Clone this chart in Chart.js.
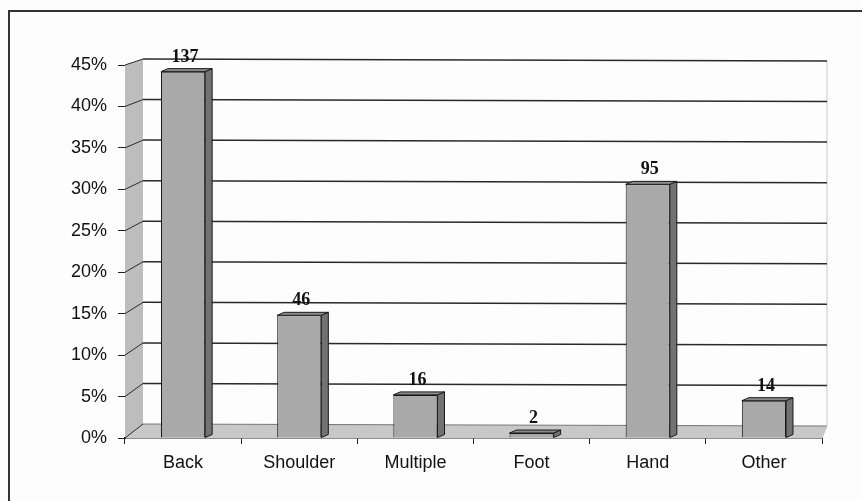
<!DOCTYPE html>
<html>
<head>
<meta charset="utf-8">
<script src="https://cdn.jsdelivr.net/npm/chart.js@4"></script>
<style>
html,body{margin:0;padding:0;background:#fff;}
#wrap{width:862px;height:501px;position:relative;}
</style>
</head>
<body>
<div id="wrap"><canvas id="c"></canvas></div>
<script>
const categories = ['Back', 'Shoulder', 'Multiple', 'Foot', 'Hand', 'Other'];
const counts = [137, 46, 16, 2, 95, 14];
const percents = [44.2, 14.8, 5.2, 0.6, 30.6, 4.5];
const yMin = 0, yMax = 45, yStep = 5;

const BAR_DX = 7, BAR_DY = -3;

function backPt(chart, v, t) {
  const a = chart.chartArea;
  const ys = chart.scales.y;
  const yf = ys.getPixelForValue(v);
  const frac = (yf - a.top) / (a.bottom - a.top);
  const xl = a.left + 18, xr = a.right + 5;
  const y = yf - 6 - frac * 8 + t * 2;
  return [xl + t * (xr - xl), y];
}

const threeD = {
  id: 'threeD',
  beforeDraw(chart) {
    const ctx = chart.ctx;
    ctx.save();
    ctx.fillStyle = '#fdfdfd';
    ctx.fillRect(0, 0, chart.width, chart.height);
    ctx.strokeStyle = '#333';
    ctx.lineWidth = 2;
    ctx.beginPath();
    ctx.moveTo(9, chart.height);
    ctx.lineTo(9, 11);
    ctx.lineTo(chart.width, 11);
    ctx.stroke();
    ctx.restore();
  },
  beforeDatasetsDraw(chart) {
    const ctx = chart.ctx;
    const a = chart.chartArea;
    const ys = chart.scales.y;
    ctx.save();
    let p45 = backPt(chart, yMax, 0), p0 = backPt(chart, yMin, 0);
    ctx.fillStyle = '#bdbdbd';
    ctx.beginPath();
    ctx.moveTo(a.left, a.top);
    ctx.lineTo(p45[0], p45[1]);
    ctx.lineTo(p0[0], p0[1]);
    ctx.lineTo(a.left, a.bottom);
    ctx.closePath();
    ctx.fill();
    let r0 = backPt(chart, yMin, 1);
    ctx.fillStyle = '#c8c8c8';
    ctx.beginPath();
    ctx.moveTo(a.left, a.bottom);
    ctx.lineTo(a.right, a.bottom);
    ctx.lineTo(r0[0], r0[1]);
    ctx.lineTo(p0[0], p0[1]);
    ctx.closePath();
    ctx.fill();
    ctx.strokeStyle = '#777';
    ctx.lineWidth = 1;
    ctx.beginPath();
    ctx.moveTo(p0[0], p0[1]);
    ctx.lineTo(r0[0], r0[1]);
    ctx.stroke();
    let r45 = backPt(chart, yMax, 1);
    ctx.strokeStyle = '#c8c8c8';
    ctx.beginPath();
    ctx.moveTo(r45[0], r45[1]);
    ctx.lineTo(r0[0], r0[1]);
    ctx.lineTo(a.right, a.bottom);
    ctx.stroke();
    for (let v = yMin; v <= yMax; v += yStep) {
      const b0 = backPt(chart, v, 0), b1 = backPt(chart, v, 1);
      const yf = ys.getPixelForValue(v);
      ctx.strokeStyle = '#2a2a2a';
      ctx.lineWidth = 1;
      ctx.beginPath();
      ctx.moveTo(a.left, yf);
      ctx.lineTo(b0[0], b0[1]);
      ctx.stroke();
      if (v > yMin) {
        ctx.lineWidth = 1.5;
        ctx.beginPath();
        ctx.moveTo(b0[0], b0[1]);
        ctx.lineTo(b1[0], b1[1]);
        ctx.stroke();
      }
    }
    ctx.restore();
  },
  afterDatasetsDraw(chart) {
    const ctx = chart.ctx;
    const meta = chart.getDatasetMeta(0);
    ctx.save();
    ctx.lineWidth = 1;
    ctx.strokeStyle = '#1a1a1a';
    meta.data.forEach((bar, i) => {
      const x1 = bar.x - bar.width / 2, x2 = bar.x + bar.width / 2;
      const top = bar.y, base = bar.base;
      ctx.fillStyle = '#727272';
      ctx.beginPath();
      ctx.moveTo(x2, top);
      ctx.lineTo(x2 + BAR_DX, top + BAR_DY);
      ctx.lineTo(x2 + BAR_DX, base + BAR_DY);
      ctx.lineTo(x2, base);
      ctx.closePath();
      ctx.fill();
      ctx.stroke();
      ctx.fillStyle = '#8a8a8a';
      ctx.beginPath();
      ctx.moveTo(x1, top);
      ctx.lineTo(x1 + BAR_DX, top + BAR_DY);
      ctx.lineTo(x2 + BAR_DX, top + BAR_DY);
      ctx.lineTo(x2, top);
      ctx.closePath();
      ctx.fill();
      ctx.stroke();
      ctx.fillStyle = '#111';
      ctx.font = 'bold 18px "Liberation Serif", "DejaVu Serif", serif';
      ctx.textAlign = 'center';
      ctx.textBaseline = 'alphabetic';
      ctx.fillText(String(counts[i]), bar.x + 2, top - 10);
    });
    ctx.restore();
  }
};

new Chart(document.getElementById('c'), {
  type: 'bar',
  data: {
    labels: categories,
    datasets: [{
      data: percents,
      backgroundColor: '#a9a9a9',
      borderColor: '#1a1a1a',
      borderWidth: 1,
      borderSkipped: 'start',
      barPercentage: 0.38,
      categoryPercentage: 1.0
    }]
  },
  options: {
    responsive: true,
    maintainAspectRatio: false,
    animation: false,
    layout: { padding: { left: 0, right: 40, top: 65, bottom: 0 } },
    plugins: { legend: { display: false }, tooltip: { enabled: false } },
    scales: {
      x: {
        afterFit(scale) { scale.height = 63; },
        grid: { offset: true, drawOnChartArea: false, drawTicks: true, tickLength: 6, color: '#222', lineWidth: 1 },
        border: { display: true, color: '#222', width: 1.5 },
        ticks: {
          color: '#111',
          padding: 8,
          font: { family: '"Liberation Sans", Arial, sans-serif', size: 18 }
        }
      },
      y: {
        min: yMin,
        max: yMax,
        afterFit(scale) { scale.width = 125; },
        grid: { drawOnChartArea: false, drawTicks: true, tickLength: 7, color: '#222' },
        border: { display: true, color: '#222', width: 1 },
        ticks: {
          stepSize: yStep,
          color: '#111',
          padding: 11,
          font: { family: '"Liberation Sans", Arial, sans-serif', size: 18 },
          callback: v => v + '%'
        }
      }
    }
  },
  plugins: [threeD]
});
</script>
</body>
</html>
